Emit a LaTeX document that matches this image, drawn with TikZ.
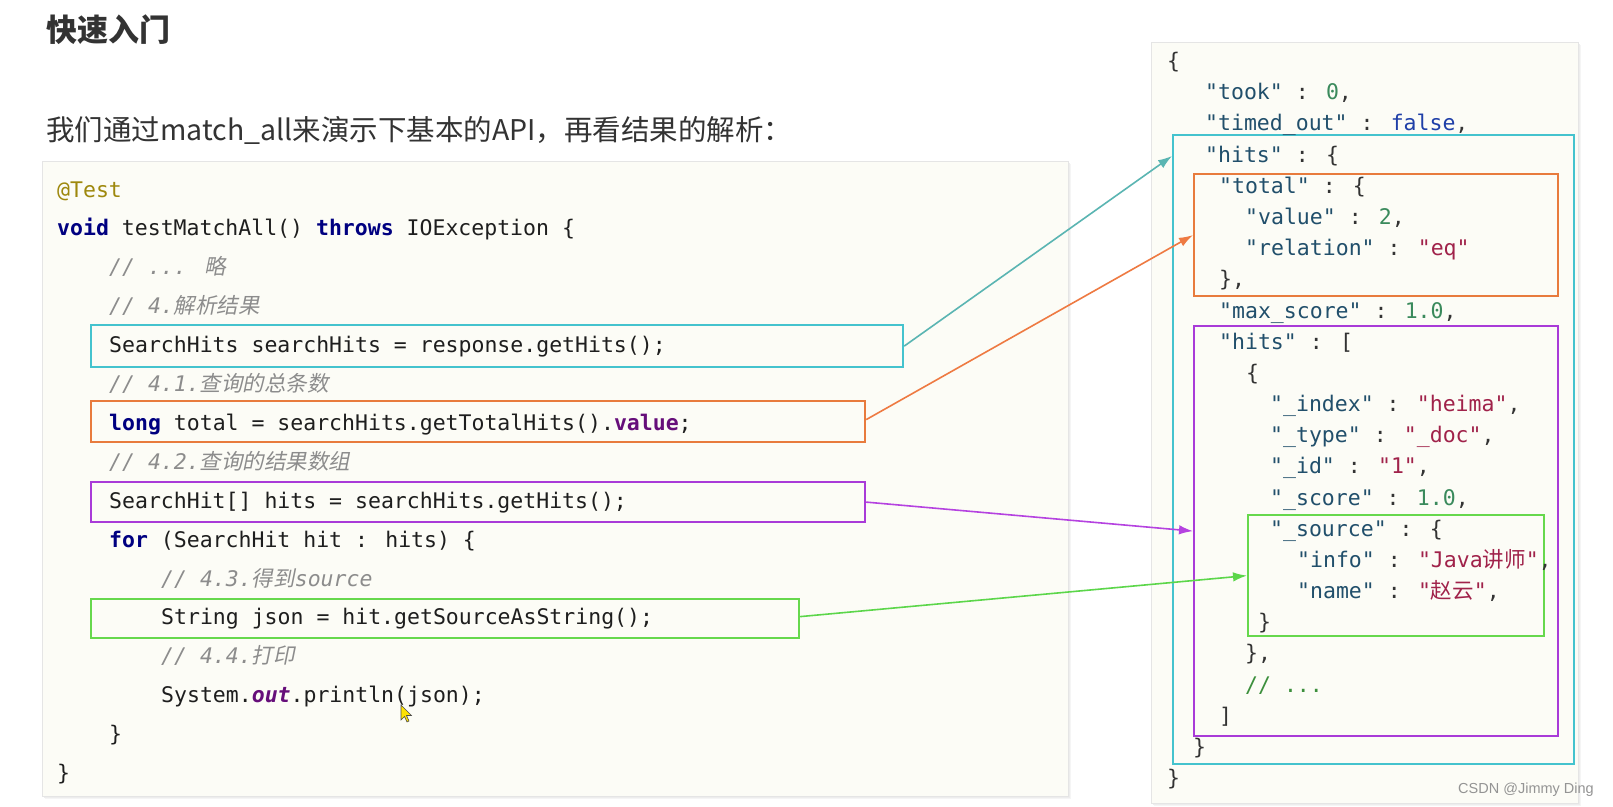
\documentclass[tikz,border=0pt]{standalone}
\usepackage{fontspec}
\usetikzlibrary{arrows.meta}
\setmainfont{Noto Sans CJK SC}
\newfontfamily\cjk{Noto Sans CJK SC}
\newfontfamily\cjkit[FakeSlant=0.2]{Noto Sans CJK SC}
\newfontfamily\mono[Ligatures=TeXOff,
  ItalicFont={DejaVu Sans Mono Oblique},
  BoldFont={DejaVu Sans Mono Bold},
  BoldItalicFont={DejaVu Sans Mono Bold Oblique}]{DejaVu Sans Mono}
\newfontfamily\wmfont{Liberation Sans}

\definecolor{kwc}{HTML}{000080}
\definecolor{annc}{HTML}{9E880D}
\definecolor{fldc}{HTML}{660E7A}
\definecolor{cmtc}{HTML}{8C8C8C}
\definecolor{txtc}{HTML}{1E1E1E}
\definecolor{jkeyc}{HTML}{214F6B}
\definecolor{jnumc}{HTML}{3A8A5C}
\definecolor{jboolc}{HTML}{1F3FA8}
\definecolor{jstrc}{HTML}{A0224A}
\definecolor{jcmtc}{HTML}{3C8F3C}
\definecolor{headc}{HTML}{333333}
\definecolor{panelc}{HTML}{FCFCF6}
\definecolor{cyanc}{HTML}{44C3CE}
\definecolor{orangec}{HTML}{E87B3D}
\definecolor{purplec}{HTML}{A93BD8}
\definecolor{greenc}{HTML}{66D84C}
\definecolor{acyan}{HTML}{5AB5B2}
\definecolor{aorange}{HTML}{EE7A42}
\definecolor{apurple}{HTML}{B542E0}
\definecolor{agreen}{HTML}{5CD64A}

\newcommand{\kw}[1]{\textcolor{kwc}{\bfseries #1}}
\newcommand{\fldx}[1]{\textcolor{fldc}{\bfseries #1}}
\newcommand{\jk}[1]{\textcolor{jkeyc}{#1}}
\newcommand{\jn}[1]{\textcolor{jnumc}{#1}}
\newcommand{\jb}[1]{\textcolor{jboolc}{#1}}
\newcommand{\js}[1]{\textcolor{jstrc}{#1}}
\newcommand{\cz}[1]{{\cjkit\upshape #1}}

\tikzset{
  codeline/.style={anchor=base west, inner sep=0pt, text=txtc,
    font=\mono\fontsize{21.5}{26}\selectfont},
  cmtline/.style={codeline, text=cmtc, font=\mono\itshape\fontsize{21.5}{26}\selectfont},
  jline/.style={anchor=base west, inner sep=0pt, text=headc,
    font=\mono\fontsize{21.5}{26}\selectfont},
  hlbox/.style={draw=#1, line width=2.2pt, anchor=north west, inner sep=0pt},
  link/.style={draw=#1, line width=1.6pt, -{Latex[length=14pt,width=9.5pt]}},
  panel/.style={fill=panelc, draw=black!10, line width=0.8pt}
}

\begin{document}
\begin{tikzpicture}[x=1pt,y=-1pt]
\useasboundingbox (0,0) rectangle (1613,806);
\fill[white] (0,0) rectangle (1613,806);

% headings
\node[anchor=base west, inner sep=0pt, text=headc,
  font=\cjk\bfseries\fontsize{31}{36}\selectfont] (title) at (46,41) {快速入门};
\node[anchor=base west, inner sep=0pt, text=headc,
  font=\cjk\fontsize{28.5}{34}\selectfont] (sub) at (46,140)
  {我们通过match\_all来演示下基本的API，再看结果的解析：};

% panels with soft shadows
\foreach \o/\c in {3/black!4, 2/black!7, 1/black!11}{
  \fill[\c] (42+\o,161+\o) rectangle (1068+\o,796+\o);
  \fill[\c] (1151+\o,42+\o) rectangle (1578+\o,803+\o);
}
\path[panel] (42,161) rectangle (1068,796);
\path[panel] (1151,42) rectangle (1578,803);

% highlight boxes (code)
\node[hlbox=cyanc, minimum width=812pt, minimum height=42pt] (hc) at (90,324) {};
\node[hlbox=orangec, minimum width=774pt, minimum height=41pt] (ho) at (90,400) {};
\node[hlbox=purplec, minimum width=774pt, minimum height=40pt] (hp) at (90,481) {};
\node[hlbox=greenc, minimum width=708pt, minimum height=39pt] (hg) at (90,598) {};

% highlight boxes (JSON)
\node[hlbox=cyanc, minimum width=401pt, minimum height=629pt] (jc) at (1172,134) {};
\node[hlbox=orangec, minimum width=364pt, minimum height=122pt] (jo) at (1193,173) {};
\node[hlbox=purplec, minimum width=364pt, minimum height=410pt] (jp) at (1193,325) {};
\node[hlbox=greenc, minimum width=296pt, minimum height=121pt] (jg) at (1247,514) {};

% code
\node[codeline, text=annc] (c0) at (57,197.0) {@Test};
\node[codeline] (c1) at (57,235.9) {\kw{void} testMatchAll() \kw{throws} IOException \{};
\node[cmtline] (c2) at (109,274.8) {// ... \cz{略}};
\node[cmtline] (c3) at (109,313.7) {// 4.\cz{解析结果}};
\node[codeline] (c4) at (109,352.6) {SearchHits searchHits = response.getHits();};
\node[cmtline] (c5) at (109,391.5) {// 4.1.\cz{查询的总条数}};
\node[codeline] (c6) at (109,430.4) {\kw{long} total = searchHits.getTotalHits().\fldx{value};};
\node[cmtline] (c7) at (109,469.3) {// 4.2.\cz{查询的结果数组}};
\node[codeline] (c8) at (109,508.2) {SearchHit[] hits = searchHits.getHits();};
\node[codeline] (c9) at (109,547.1) {\kw{for} (SearchHit hit : hits) \{};
\node[cmtline] (c10) at (161,586.0) {// 4.3.\cz{得到}source};
\node[codeline] (c11) at (161,624.9) {String json = hit.getSourceAsString();};
\node[cmtline] (c12) at (161,663.8) {// 4.4.\cz{打印}};
\node[codeline] (c13) at (161,702.7) {System.\textcolor{fldc}{\bfseries\itshape out}.println(json);};
\node[codeline] (c14) at (109,741.6) {\}};
\node[codeline] (c15) at (57,780.5) {\}};

% JSON
\node[jline] (j0) at (1167,68.7) {\{};
\node[jline] (j1) at (1205,99.9) {\jk{"took"} : \jn{0},};
\node[jline] (j2) at (1205,130.0) {\jk{"timed\_out"} : \jb{false},};
\node[jline] (j3) at (1205,162.2) {\jk{"hits"} : \{};
\node[jline] (j4) at (1219,193.4) {\jk{"total"} : \{};
\node[jline] (j5) at (1245,224.6) {\jk{"value"} : \jn{2},};
\node[jline] (j6) at (1245,255.7) {\jk{"relation"} : \js{"eq"}};
\node[jline] (j7) at (1219,286.9) {\},};
\node[jline] (j8) at (1219,318.1) {\jk{"max\_score"} : \jn{1.0},};
\node[jline] (j9) at (1219,349.2) {\jk{"hits"} : [};
\node[jline] (j10) at (1246,380.4) {\{};
\node[jline] (j11) at (1270,411.6) {\jk{"\_index"} : \js{"heima"},};
\node[jline] (j12) at (1270,442.7) {\jk{"\_type"} : \js{"\_doc"},};
\node[jline] (j13) at (1270,473.9) {\jk{"\_id"} : \js{"1"},};
\node[jline] (j14) at (1270,505.1) {\jk{"\_score"} : \jn{1.0},};
\node[jline] (j15) at (1270,536.3) {\jk{"\_source"} : \{};
\node[jline] (j16) at (1297,567.4) {\jk{"info"} : \js{"Java{\cjk 讲师}"},};
\node[jline] (j17) at (1297,598.6) {\jk{"name"} : \js{"{\cjk 赵云}"},};
\node[jline] (j18) at (1258,629.8) {\}};
\node[jline] (j19) at (1245,660.9) {\},};
\node[jline, text=jcmtc] (j20) at (1245,692.1) {// ...};
\node[jline] (j21) at (1219,723.3) {]};
\node[jline] (j22) at (1193,754.4) {\}};
\node[jline] (j23) at (1167,785.6) {\}};

% connectors
\draw[link=acyan] (hc.east) -- ([yshift=-22pt]jc.north west);
\draw[link=aorange] ([yshift=2pt]ho.east) -- (jo.west);
\draw[link=apurple] (hp.east) -- (jp.west);
\draw[link=agreen] ([yshift=2pt]hg.east) -- (jg.west);

% mouse cursor
\filldraw[fill=yellow!85!orange, draw=black!70, line width=0.6pt]
  (401,705) -- (401,720) -- (404.5,716.5) -- (407,722) -- (409,721) -- (406.5,715.5) -- (411.5,715.5) -- cycle;

% watermark
\node[anchor=base west, inner sep=0pt, text=black!42,
  font=\wmfont\fontsize{14.5}{17}\selectfont] (wm) at (1458,793) {CSDN @Jimmy Ding};
\end{tikzpicture}
\end{document}
